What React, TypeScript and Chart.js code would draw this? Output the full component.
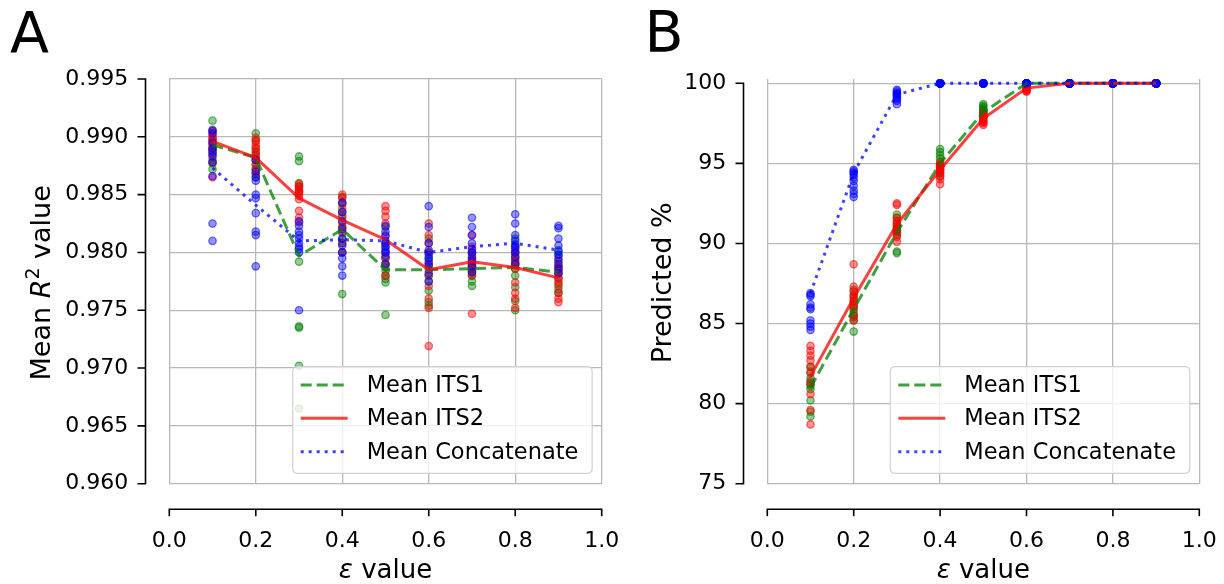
import React, { useEffect, useRef } from "react";
import { Chart, registerables } from "chart.js";

Chart.register(...registerables);

const FONT = "'DejaVu Sans', 'Liberation Sans', sans-serif";

// ---------------- data ----------------
const epsilon = [0.1, 0.2, 0.3, 0.4, 0.5, 0.6, 0.7, 0.8, 0.9];
const xTicks = [0, 0.2, 0.4, 0.6, 0.8, 1.0];
const aYTicks = [0.96, 0.965, 0.97, 0.975, 0.98, 0.985, 0.99, 0.995];
const bYTicks = [75, 80, 85, 90, 95, 100];
const legendLabels = ["Mean ITS1", "Mean ITS2", "Mean Concatenate"];

// Panel A: mean R^2 per run
const aITS1Points = [
  [0.9914, 0.9905, 0.9898, 0.9893, 0.989, 0.9888, 0.9885, 0.988, 0.9877, 0.9872],
  [0.9903, 0.9897, 0.989, 0.9886, 0.9883, 0.988, 0.9876, 0.9872, 0.9868, 0.9865],
  [0.9883, 0.9879, 0.986, 0.9857, 0.9853, 0.9792, 0.9736, 0.9735, 0.9702, 0.9665],
  [0.9848, 0.9842, 0.9835, 0.983, 0.9822, 0.9818, 0.9812, 0.9808, 0.98, 0.9764],
  [0.9822, 0.9805, 0.9795, 0.979, 0.9787, 0.9784, 0.978, 0.9777, 0.9774, 0.9746],
  [0.9812, 0.98, 0.9795, 0.979, 0.9785, 0.978, 0.9775, 0.9767, 0.9757, 0.9754],
  [0.98, 0.9795, 0.979, 0.9788, 0.9786, 0.9784, 0.9782, 0.978, 0.9775, 0.9771],
  [0.9812, 0.98, 0.9795, 0.9792, 0.979, 0.9786, 0.978, 0.977, 0.9758, 0.975],
  [0.9802, 0.9798, 0.9792, 0.9788, 0.9785, 0.9782, 0.9778, 0.9773, 0.9768, 0.9765],
];
const aITS2Points = [
  [0.9905, 0.9902, 0.99, 0.9898, 0.9896, 0.9894, 0.989, 0.9885, 0.9878, 0.9865],
  [0.9899, 0.9896, 0.9893, 0.989, 0.9887, 0.9884, 0.988, 0.9876, 0.9872, 0.9868],
  [0.9859, 0.9857, 0.9855, 0.9853, 0.9851, 0.9849, 0.9846, 0.9836, 0.983, 0.9826],
  [0.985, 0.9847, 0.9843, 0.9838, 0.9832, 0.9826, 0.9822, 0.9817, 0.9808, 0.98],
  [0.984, 0.9836, 0.9831, 0.9825, 0.9815, 0.9808, 0.98, 0.9795, 0.979, 0.978],
  [0.9825, 0.9815, 0.9808, 0.98, 0.979, 0.978, 0.9771, 0.976, 0.9752, 0.9719],
  [0.9815, 0.9805, 0.98, 0.9795, 0.9792, 0.979, 0.9788, 0.9785, 0.978, 0.9747],
  [0.9805, 0.98, 0.9797, 0.9793, 0.979, 0.9786, 0.9774, 0.9765, 0.976, 0.9752],
  [0.9793, 0.9788, 0.9785, 0.9782, 0.9778, 0.9775, 0.9771, 0.9765, 0.976, 0.9757],
];
const aConcatPoints = [
  [0.9906, 0.9903, 0.9895, 0.989, 0.9887, 0.9883, 0.9878, 0.9866, 0.9825, 0.981],
  [0.988, 0.987, 0.9865, 0.9862, 0.985, 0.9847, 0.9834, 0.9818, 0.9815, 0.9788],
  [0.9827, 0.9823, 0.9818, 0.9815, 0.9812, 0.9808, 0.9805, 0.9803, 0.98, 0.975],
  [0.9843, 0.9835, 0.9827, 0.982, 0.9812, 0.9806, 0.98, 0.9795, 0.9788, 0.978],
  [0.9823, 0.9818, 0.9814, 0.981, 0.9808, 0.9805, 0.9802, 0.98, 0.9797, 0.979],
  [0.984, 0.9822, 0.9808, 0.9802, 0.9798, 0.9795, 0.9792, 0.9788, 0.9782, 0.9775],
  [0.983, 0.9822, 0.9815, 0.9808, 0.9803, 0.98, 0.9797, 0.9793, 0.9788, 0.9783],
  [0.9833, 0.9825, 0.9815, 0.981, 0.9807, 0.9805, 0.9803, 0.98, 0.9796, 0.979],
  [0.9823, 0.9821, 0.9812, 0.9806, 0.9801, 0.9798, 0.9795, 0.979, 0.9786, 0.9782],
];
const aMeanITS1 = [0.9893, 0.9882, 0.9797, 0.982, 0.9785, 0.9785, 0.9786, 0.9787, 0.9783];
const aMeanITS2 = [0.9896, 0.9882, 0.9847, 0.9828, 0.9811, 0.9785, 0.9792, 0.9787, 0.9778];
const aMeanConcat = [0.9873, 0.9841, 0.981, 0.9811, 0.981, 0.98, 0.9805, 0.9808, 0.9802];

// Panel B: predicted %
const bITS1Points = [
  [82.3, 82.0, 81.6, 81.4, 81.2, 81.1, 80.9, 80.2, 79.5, 79.2],
  [87.1, 86.7, 86.4, 86.1, 85.9, 85.7, 85.5, 85.4, 85.2, 84.5],
  [91.8, 91.6, 91.3, 91.1, 90.9, 90.8, 90.7, 90.5, 89.5, 89.4],
  [95.9, 95.7, 95.5, 95.3, 95.1, 94.9, 94.8, 94.6, 94.4, 94.2],
  [98.7, 98.6, 98.5, 98.4, 98.3, 98.3, 98.2, 98.1, 98.0, 97.9],
  [100, 100, 100, 100, 100, 100, 100, 100, 100, 100],
  [100, 100, 100, 100, 100, 100, 100, 100, 100, 100],
  [100, 100, 100, 100, 100, 100, 100, 100, 100, 100],
  [100, 100, 100, 100, 100, 100, 100, 100, 100, 100],
];
const bITS2Points = [
  [83.6, 83.3, 83.0, 82.7, 82.3, 81.9, 81.3, 80.6, 79.6, 78.7],
  [88.7, 87.3, 87.0, 86.8, 86.6, 86.4, 86.2, 86.0, 85.5, 85.2],
  [92.5, 92.4, 91.6, 91.4, 91.2, 91.0, 90.8, 90.6, 90.4, 90.1],
  [95.0, 94.9, 94.8, 94.7, 94.6, 94.5, 94.4, 94.2, 94.0, 93.7],
  [98.1, 98.0, 97.9, 97.85, 97.8, 97.7, 97.6, 97.6, 97.5, 97.4],
  [100, 99.9, 99.9, 99.8, 99.8, 99.7, 99.6, 99.6, 99.5, 99.5],
  [100, 100, 100, 100, 100, 100, 100, 100, 100, 100],
  [100, 100, 100, 100, 100, 100, 100, 100, 100, 100],
  [100, 100, 100, 100, 100, 100, 100, 100, 100, 100],
];
const bConcatPoints = [
  [86.9, 86.8, 86.7, 86.2, 86.0, 85.9, 85.2, 85.0, 84.8, 84.6],
  [94.6, 94.5, 94.4, 94.3, 94.1, 93.9, 93.6, 93.3, 93.1, 92.9],
  [99.6, 99.5, 99.4, 99.35, 99.3, 99.2, 99.1, 99.0, 98.9, 98.7],
  [100, 100, 100, 100, 100, 100, 100, 100, 100, 100],
  [100, 100, 100, 100, 100, 100, 100, 100, 100, 100],
  [100, 100, 100, 100, 100, 100, 100, 100, 100, 100],
  [100, 100, 100, 100, 100, 100, 100, 100, 100, 100],
  [100, 100, 100, 100, 100, 100, 100, 100, 100, 100],
  [100, 100, 100, 100, 100, 100, 100, 100, 100, 100],
];
const bMeanITS1 = [81.0, 85.9, 90.7, 95.0, 98.2, 100, 100, 100, 100];
const bMeanITS2 = [81.7, 86.6, 91.2, 94.6, 97.8, 99.7, 100, 100, 100];
const bMeanConcat = [86.9, 94.4, 99.3, 100, 100, 100, 100, 100, 100];

// ---------------- styles ----------------
const GREEN_PT = "rgba(0,128,0,0.42)";
const GREEN_PT_EDGE = "rgba(0,128,0,0.55)";
const RED_PT = "rgba(255,0,0,0.42)";
const RED_PT_EDGE = "rgba(255,0,0,0.55)";
const BLUE_PT = "rgba(0,0,255,0.42)";
const BLUE_PT_EDGE = "rgba(0,0,255,0.55)";
const GREEN_LINE = "rgba(0,128,0,0.75)";
const RED_LINE = "rgba(255,0,0,0.75)";
const BLUE_LINE = "rgba(0,0,255,0.75)";
const DASH_ITS1 = [11, 5];
const DASH_ITS2: number[] = [];
const DASH_CONCAT = [3, 5];
const GRID = "#b8b8b8";

const H = 584;

type Run = { t: string; f: string; dy?: number };

type PanelSpec = {
  canvasWidth: number;
  letter: string;
  letterX: number;
  letterY: number;
  plotLeft: number;
  plotRight: number;
  plotTop: number;
  plotBottom: number;
  yMin: number;
  yMax: number;
  yTicks: number[];
  yDecimals: number;
  yTitle: Run[];
  yTitleX: number;
  its1: number[][];
  its2: number[][];
  concat: number[][];
  meanITS1: number[];
  meanITS2: number[];
  meanConcat: number[];
};

const xTitleRuns: Run[] = [
  { t: "\u03b5", f: `italic 26px ${FONT}` },
  { t: " value", f: `26px ${FONT}` },
];

const panelA: PanelSpec = {
  canvasWidth: 640,
  letter: "A",
  letterX: 10,
  letterY: 53,
  plotLeft: 169.3,
  plotRight: 601.7,
  plotTop: 79,
  plotBottom: 483.7,
  yMin: 0.96,
  yMax: 0.995,
  yTicks: aYTicks,
  yDecimals: 3,
  yTitle: [
    { t: "Mean ", f: `27px ${FONT}` },
    { t: "R", f: `italic 27px ${FONT}` },
    { t: "2", f: `19px ${FONT}`, dy: -11 },
    { t: " value", f: `27px ${FONT}` },
  ],
  yTitleX: 50,
  its1: aITS1Points,
  its2: aITS2Points,
  concat: aConcatPoints,
  meanITS1: aMeanITS1,
  meanITS2: aMeanITS2,
  meanConcat: aMeanConcat,
};

const panelB: PanelSpec = {
  canvasWidth: 612,
  letter: "B",
  letterX: 32.4,
  letterY: 52,
  plotLeft: 155.3,
  plotRight: 587.3,
  plotTop: 79,
  plotBottom: 483.7,
  yMin: 75,
  yMax: 100.27,
  yTicks: bYTicks,
  yDecimals: 0,
  yTitle: [{ t: "Predicted %", f: `27px ${FONT}` }],
  yTitleX: 59,
  its1: bITS1Points,
  its2: bITS2Points,
  concat: bConcatPoints,
  meanITS1: bMeanITS1,
  meanITS2: bMeanITS2,
  meanConcat: bMeanConcat,
};

function runsWidth(ctx: CanvasRenderingContext2D, runs: Run[]) {
  let w = 0;
  for (const r of runs) {
    ctx.font = r.f;
    w += ctx.measureText(r.t).width;
  }
  return w;
}

function drawRunsCentered(ctx: CanvasRenderingContext2D, runs: Run[], cx: number, baseline: number) {
  const w = runsWidth(ctx, runs);
  let x = cx - w / 2;
  ctx.textAlign = "left";
  ctx.textBaseline = "alphabetic";
  for (const r of runs) {
    ctx.font = r.f;
    ctx.fillText(r.t, x, baseline + (r.dy || 0));
    x += ctx.measureText(r.t).width;
  }
}

function makeDecor(p: PanelSpec) {
  return {
    id: "decor" + p.letter,
    afterDraw(chart: any) {
      const { ctx, chartArea: ca } = chart;
      const xs = chart.scales.x;
      const ys = chart.scales.y;
      ctx.save();
      // offset spines
      ctx.strokeStyle = "#000";
      ctx.lineWidth = 1.6;
      ctx.lineCap = "butt";
      const sx = ca.left - 23.8;
      const yTop = ys.getPixelForValue(p.yTicks[p.yTicks.length - 1]);
      const yBot = ys.getPixelForValue(p.yTicks[0]);
      ctx.beginPath();
      ctx.moveTo(sx, yTop - 0.8);
      ctx.lineTo(sx, yBot + 0.8);
      for (const v of p.yTicks) {
        const py = ys.getPixelForValue(v);
        ctx.moveTo(sx + 0.8, py);
        ctx.lineTo(sx - 8, py);
      }
      const sy = ca.bottom + 25.6;
      const xL = xs.getPixelForValue(xTicks[0]);
      const xR = xs.getPixelForValue(xTicks[xTicks.length - 1]);
      ctx.moveTo(xL - 0.8, sy);
      ctx.lineTo(xR + 0.8, sy);
      for (const v of xTicks) {
        const px = xs.getPixelForValue(v);
        ctx.moveTo(px, sy - 0.8);
        ctx.lineTo(px, sy + 7);
      }
      ctx.stroke();

      // legend
      const bl = ca.right - 309;
      const br = ca.right - 9.5;
      const bt = ca.bottom - 117;
      const bb = ca.bottom - 10.4;
      const rad = 5;
      ctx.beginPath();
      ctx.moveTo(bl + rad, bt);
      ctx.lineTo(br - rad, bt);
      ctx.quadraticCurveTo(br, bt, br, bt + rad);
      ctx.lineTo(br, bb - rad);
      ctx.quadraticCurveTo(br, bb, br - rad, bb);
      ctx.lineTo(bl + rad, bb);
      ctx.quadraticCurveTo(bl, bb, bl, bb - rad);
      ctx.lineTo(bl, bt + rad);
      ctx.quadraticCurveTo(bl, bt, bl + rad, bt);
      ctx.closePath();
      ctx.fillStyle = "rgba(255,255,255,0.8)";
      ctx.fill();
      ctx.strokeStyle = "rgba(204,204,204,0.9)";
      ctx.lineWidth = 1.2;
      ctx.stroke();
      const entries = [
        { c: GREEN_LINE, d: DASH_ITS1 },
        { c: RED_LINE, d: DASH_ITS2 },
        { c: BLUE_LINE, d: DASH_CONCAT },
      ];
      entries.forEach((e, i) => {
        const cy = bt + 18.3 + i * 33.35;
        ctx.beginPath();
        ctx.setLineDash(e.d);
        ctx.strokeStyle = e.c;
        ctx.lineWidth = 3;
        ctx.moveTo(bl + 8, cy);
        ctx.lineTo(bl + 55, cy);
        ctx.stroke();
        ctx.setLineDash([]);
        ctx.fillStyle = "#000";
        ctx.font = `22.5px ${FONT}`;
        ctx.textAlign = "left";
        ctx.textBaseline = "middle";
        ctx.fillText(legendLabels[i], bl + 74, cy + 1);
      });

      // axis titles
      ctx.fillStyle = "#000";
      drawRunsCentered(ctx, xTitleRuns, (ca.left + ca.right) / 2, 578);
      ctx.save();
      ctx.translate(p.yTitleX, (ca.top + ca.bottom) / 2 + 1.5);
      ctx.rotate(-Math.PI / 2);
      drawRunsCentered(ctx, p.yTitle, 0, 0);
      ctx.restore();

      // panel letter
      ctx.font = `57px ${FONT}`;
      ctx.textAlign = "left";
      ctx.textBaseline = "alphabetic";
      ctx.fillText(p.letter, p.letterX, p.letterY);
      ctx.restore();
    },
  };
}

function pointData(points: number[][]) {
  const out: { x: number; y: number }[] = [];
  points.forEach((vals, i) => vals.forEach((v) => out.push({ x: epsilon[i], y: v })));
  return out;
}

function meanData(vals: number[]) {
  return vals.map((v, i) => ({ x: epsilon[i], y: v }));
}

function buildConfig(p: PanelSpec): any {
  const pointDs = (pts: number[][], bg: string, edge: string, order: number) => ({
    type: "scatter",
    data: pointData(pts),
    backgroundColor: bg,
    borderColor: edge,
    borderWidth: 1.3,
    pointRadius: 3.7,
    showLine: false,
    order,
  });
  const lineDs = (vals: number[], color: string, dash: number[], order: number) => ({
    type: "line",
    data: meanData(vals),
    borderColor: color,
    borderWidth: 3,
    borderDash: dash,
    borderCapStyle: "butt",
    borderJoinStyle: "round",
    pointRadius: 0,
    fill: false,
    tension: 0,
    order,
  });
  const tickFont = { family: FONT, size: 22 };
  return {
    type: "scatter",
    data: {
      datasets: [
        lineDs(p.meanConcat, BLUE_LINE, DASH_CONCAT, 0),
        lineDs(p.meanITS2, RED_LINE, DASH_ITS2, 1),
        lineDs(p.meanITS1, GREEN_LINE, DASH_ITS1, 2),
        pointDs(p.concat, BLUE_PT, BLUE_PT_EDGE, 3),
        pointDs(p.its2, RED_PT, RED_PT_EDGE, 4),
        pointDs(p.its1, GREEN_PT, GREEN_PT_EDGE, 5),
      ],
    },
    options: {
      responsive: false,
      maintainAspectRatio: false,
      animation: false,
      devicePixelRatio: 1,
      layout: { padding: { left: 0, top: p.plotTop, right: p.canvasWidth - p.plotRight, bottom: 0 } },
      plugins: { legend: { display: false }, tooltip: { enabled: false }, title: { display: false } },
      events: [],
      scales: {
        x: {
          type: "linear",
          min: 0,
          max: 1,
          afterBuildTicks: (s: any) => {
            s.ticks = xTicks.map((v) => ({ value: v }));
          },
          afterFit: (s: any) => {
            s.height = H - p.plotBottom;
            s.paddingLeft = 0;
            s.paddingRight = 0;
          },
          grid: { color: GRID, lineWidth: 1.3, drawTicks: false },
          border: { display: false },
          ticks: {
            padding: 44,
            color: "#000",
            font: tickFont,
            maxRotation: 0,
            autoSkip: false,
            callback: (v: any) => Number(v).toFixed(1),
          },
        },
        y: {
          type: "linear",
          min: p.yMin,
          max: p.yMax,
          afterBuildTicks: (s: any) => {
            s.ticks = p.yTicks.map((v) => ({ value: v }));
          },
          afterFit: (s: any) => {
            s.width = p.plotLeft;
            s.paddingTop = 0;
            s.paddingBottom = 0;
          },
          grid: { color: GRID, lineWidth: 1.3, drawTicks: false },
          border: { display: false },
          ticks: {
            padding: 41,
            color: "#000",
            font: tickFont,
            autoSkip: false,
            callback: (v: any) => Number(v).toFixed(p.yDecimals),
          },
        },
      },
    },
    plugins: [makeDecor(p)],
  };
}

function Panel({ spec, left }: { spec: PanelSpec; left: number }) {
  const ref = useRef<HTMLCanvasElement>(null);
  useEffect(() => {
    if (!ref.current) return;
    const chart = new Chart(ref.current, buildConfig(spec));
    return () => chart.destroy();
  }, [spec]);
  return (
    <canvas
      ref={ref}
      width={spec.canvasWidth}
      height={H}
      style={{
        position: "absolute",
        left,
        top: 0,
        width: spec.canvasWidth,
        height: H,
        display: "block",
      }}
    />
  );
}

export default function App() {
  return (
    <div
      style={{
        position: "fixed",
        left: 0,
        top: 0,
        width: 1224,
        height: 584,
        background: "#fff",
        overflow: "hidden",
      }}
    >
      <Panel spec={panelA} left={0} />
      <Panel spec={panelB} left={612} />
    </div>
  );
}
